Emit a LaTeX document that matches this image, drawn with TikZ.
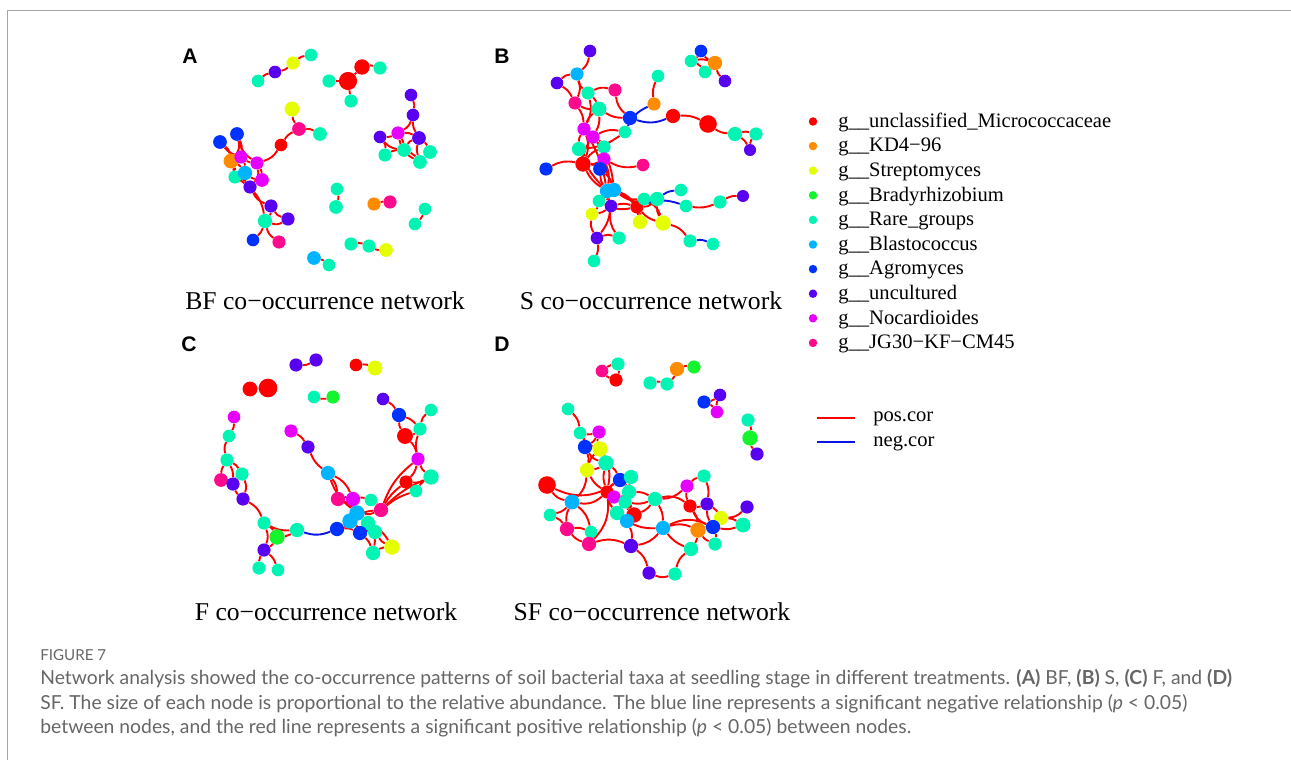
\documentclass[tikz,border=0pt]{standalone}
\usepackage{fontspec}
\setmainfont{Liberation Serif}
\setsansfont{Liberation Sans}
\newfontfamily\capfont{Lato}
\usetikzlibrary{backgrounds}

\definecolor{micro}{HTML}{FF0000}
\definecolor{kdfour}{HTML}{FF8C00}
\definecolor{strepto}{HTML}{E6FF00}
\definecolor{brady}{HTML}{14F52D}
\definecolor{rare}{HTML}{00F5B4}
\definecolor{blasto}{HTML}{00B4FF}
\definecolor{agro}{HTML}{0032FF}
\definecolor{uncult}{HTML}{5A00F0}
\definecolor{nocard}{HTML}{E600FF}
\definecolor{jgthirty}{HTML}{FF0A8C}
\definecolor{negblue}{HTML}{0A14E6}

\begin{document}
\begin{tikzpicture}[x=0.02cm, y=-0.02cm,
  taxon/.style={circle, fill=#1, inner sep=0pt, minimum size=.23cm},
  poscor/.style={draw=red, line width=.038cm},
  negcor/.style={draw=negblue, line width=.038cm},
  title/.style={font=\fontsize{14.6}{17}\selectfont, inner sep=0pt},
  panel/.style={font=\sffamily\bfseries\fontsize{12}{14}\selectfont, inner sep=0pt},
  legtext/.style={font=\fontsize{11.7}{14}\selectfont, anchor=west, inner sep=0pt},
  capt/.style={font=\capfont\fontsize{11}{13}\selectfont, text=black!60, anchor=base west, inner sep=0pt}]
  \useasboundingbox (0,0) rectangle (1291,760);
  \draw[black!35, line width=.03cm] (7.5,760) -- (7.5,10.5) -- (1291,10.5);

  \node[panel] (pA) at (190,56) {A};
  \node[panel] (pB) at (502,56) {B};
  \node[panel] (pC) at (189,344) {C};
  \node[panel] (pD) at (502,344) {D};

  \foreach \nm/\px/\py/\col/\sz in {
    a1/258/81/rare/.23, a2/275/72/uncult/.23, a3/293/63/strepto/.24, a4/311/55/rare/.23,
    a5/348/81/micro/.33, a6/362/67/micro/.28, a7/380/68/rare/.24, a8/329/81/rare/.24,
    a9/351/101/rare/.24, a10/292/109/strepto/.27, a11/299/129/jgthirty/.25, a12/320/134/rare/.25,
    a13/281/145/micro/.23, a14/237/134/agro/.25, a15/220/142/agro/.25, a16/231/161/kdfour/.27,
    a17/241/157/nocard/.24, a18/257/163/nocard/.24, a19/235/177/rare/.24, a20/245/173/blasto/.26,
    a21/262/180/nocard/.25, a22/250/187/uncult/.24, a23/271/206/uncult/.24, a24/265/221/rare/.26,
    a25/288/219/uncult/.24, a26/253/240/agro/.23, a27/279/242/jgthirty/.24,
    a28/411/95/uncult/.23, a29/413/115/uncult/.23, a30/398/133/nocard/.24, a31/380/137/uncult/.23,
    a32/419/138/uncult/.25, a33/385/155/rare/.24, a34/404/150/rare/.25, a35/430/152/rare/.25,
    a36/420/162/rare/.25, a37/337/189/rare/.23, a38/336/207/rare/.25, a39/374/204/kdfour/.24,
    a40/390/202/jgthirty/.24, a41/425/209/rare/.23, a42/415/224/rare/.23, a43/351/244/rare/.24,
    a44/369/246/rare/.24, a45/386/250/strepto/.25, a46/314/258/blasto/.25, a47/329/265/rare/.23,
    b1/590/51/uncult/.23, b2/577/74/blasto/.24, b3/557/83/uncult/.23, b4/588/93/rare/.24,
    b5/615/90/jgthirty/.24, b6/575/103/jgthirty/.24, b7/599/109/rare/.27, b8/630/118/agro/.26,
    b9/654/104/kdfour/.24, b10/658/76/rare/.23, b11/673/116/micro/.26, b12/708/124/micro/.32,
    b13/735/134/rare/.26, b14/756/134/rare/.24, b15/750/150/uncult/.22, b16/625/132/rare/.23,
    b17/584/129/nocard/.24, b18/593/137/nocard/.24, b19/579/149/rare/.26, b20/604/147/rare/.24,
    b21/604/159/nocard/.24, b22/583/164/micro/.28, b23/546/169/agro/.24, b24/600/169/agro/.25,
    b25/643/165/jgthirty/.23, b26/607/191/blasto/.26, b27/614/190/blasto/.26, b28/599/201/rare/.23,
    b29/611/206/uncult/.23, b30/637/207/micro/.24, b31/644/199/rare/.23, b32/657/199/rare/.26,
    b33/681/190/rare/.23, b34/686/206/rare/.23, b35/720/202/rare/.24, b36/743/196/uncult/.22,
    b37/592/214/strepto/.23, b38/640/222/strepto/.26, b39/663/223/strepto/.28, b40/597/238/uncult/.23,
    b41/619/238/rare/.24, b42/594/261/rare/.23, b43/690/241/rare/.24, b44/713/244/rare/.23,
    b45/701/51/agro/.23, b46/691/61/rare/.23, b47/715/63/kdfour/.26, b48/705/72/rare/.23,
    b49/725/81/uncult/.23,
    c1/296/365/uncult/.24, c2/316/360/uncult/.24, c3/356/365/micro/.23, c4/375/368/strepto/.27,
    c5/250/389/micro/.27, c6/268/388/micro/.34, c7/314/397/rare/.23, c8/333/397/brady/.24,
    c9/383/399/uncult/.23, c10/399/415/agro/.26, c11/431/410/rare/.23, c12/420/429/rare/.24,
    c13/405/436/micro/.29, c14/418/459/nocard/.24, c15/431/477/rare/.28, c16/406/482/micro/.24,
    c17/416/491/rare/.23, c18/234/417/nocard/.23, c19/229/436/rare/.23, c20/227/460/rare/.24,
    c21/242/474/rare/.24, c22/221/480/jgthirty/.25, c23/233/484/uncult/.24, c24/243/499/uncult/.24,
    c25/264/523/rare/.24, c26/277/537/brady/.28, c27/264/550/uncult/.24, c28/259/568/rare/.24,
    c29/278/570/rare/.23, c30/297/530/rare/.26, c31/337/529/agro/.26, c32/291/431/nocard/.24,
    c33/308/447/uncult/.24, c34/328/473/blasto/.26, c35/338/499/jgthirty/.26, c36/353/499/nocard/.26,
    c37/371/500/rare/.23, c38/381/510/jgthirty/.26, c39/357/513/blasto/.28, c40/350/521/blasto/.28,
    c41/368/523/rare/.26, c42/360/533/agro/.26, c43/375/532/rare/.26, c44/373/553/rare/.26,
    c45/392/547/strepto/.28,
    d1/602/371/jgthirty/.23, d2/618/364/rare/.24, d3/616/380/micro/.24, d4/650/383/rare/.24,
    d5/667/384/rare/.24, d6/677/369/kdfour/.26, d7/694/367/brady/.24, d8/720/395/uncult/.23,
    d9/704/402/agro/.24, d10/717/412/nocard/.23, d11/748/420/rare/.24, d12/750/438/brady/.28,
    d13/757/454/uncult/.24, d14/568/409/rare/.23, d15/580/433/rare/.23, d16/599/432/nocard/.24,
    d17/585/447/agro/.26, d18/600/449/strepto/.28, d19/606/463/rare/.28, d20/587/470/strepto/.26,
    d21/547/485/micro/.32, d22/572/502/blasto/.27, d23/550/515/rare/.23, d24/567/529/jgthirty/.26,
    d25/591/532/rare/.23, d26/589/544/jgthirty/.26, d27/620/480/agro/.26, d28/631/477/rare/.26,
    d29/607/492/micro/.24, d30/614/497/nocard/.24, d31/629/492/rare/.26, d32/625/502/rare/.24,
    d33/634/515/micro/.28, d34/617/513/rare/.26, d35/627/521/blasto/.26, d36/631/546/uncult/.26,
    d37/655/499/rare/.26, d38/663/528/blasto/.26, d39/649/573/uncult/.24, d40/675/574/rare/.24,
    d41/687/486/nocard/.24, d42/704/476/rare/.24, d43/690/506/micro/.24, d44/707/504/uncult/.24,
    d45/721/518/strepto/.26, d46/698/530/kdfour/.28, d47/713/527/agro/.26, d48/747/507/uncult/.24,
    d49/743/525/rare/.27, d50/715/544/rare/.24, d51/691/549/rare/.26}
    \node[taxon=\col, minimum size=1.1*\sz cm] (\nm) at (\px,\py) {};

  \begin{scope}[on background layer]
    \foreach \u/\v/\k in {
      a1/a2/15, a2/a3/-15, a3/a4/15, a8/a5/0, a5/a6/0, a6/a7/15, a5/a9/0, a10/a11/-15,
      a11/a12/15, a11/a13/-15, a13/a18/20, a14/a17/15, a15/a17/-15, a14/a18/-20, a15/a16/20,
      a16/a17/0, a17/a18/-15, a16/a19/15, a17/a20/15, a18/a21/15, a16/a22/-20, a20/a21/-15,
      a19/a22/20, a21/a22/15, a18/a22/25, a14/a16/25, a16/a20/15, a22/a23/-20, a22/a24/15,
      a23/a24/20, a23/a25/-20, a24/a25/-25, a24/a26/15, a24/a27/-20, a28/a29/15, a29/a30/20,
      a29/a32/-15, a30/a31/15, a30/a32/15, a31/a33/20, a31/a34/-20, a30/a34/15, a32/a34/-20,
      a32/a35/15, a32/a36/-15, a34/a36/15, a30/a36/-25, a33/a34/15, a37/a38/15, a39/a40/10,
      a41/a42/15, a43/a44/15, a44/a45/-15, a46/a47/15,
      b1/b2/20, b2/b3/-20, b2/b4/-20, b2/b6/20, b3/b6/15, b4/b5/20, b4/b7/15, b5/b8/-20,
      b6/b17/15, b6/b7/-15, b4/b17/20, b7/b17/-15, b7/b18/15, b7/b8/-15, b9/b10/15, b11/b12/15,
      b12/b13/-15, b13/b14/15, b13/b15/15, b14/b15/-20, b16/b18/-20, b16/b19/15, b17/b19/-15,
      b17/b22/20, b18/b22/-15, b18/b20/15, b18/b21/15, b19/b22/20, b20/b22/-15, b21/b22/15,
      b21/b25/-20, b22/b23/-20, b22/b24/15, b21/b26/15, b22/b26/-15, b17/b26/10, b18/b27/15,
      b20/b27/-10, b19/b26/-10, b24/b27/15, b24/b26/-15, b26/b28/15, b26/b29/-15, b27/b30/15,
      b27/b31/-20, b27/b32/-25, b29/b30/15, b28/b30/-20, b29/b37/15, b26/b40/25, b29/b41/-20,
      b30/b38/15, b30/b39/-15, b27/b38/25, b28/b37/15, b31/b39/20, b32/b39/-15, b30/b32/-20,
      b34/b35/-15, b35/b36/15, b39/b43/20, b40/b42/15, b40/b41/20, b37/b40/-20, b45/b46/15,
      b45/b47/-15, b46/b47/15, b47/b48/15, b47/b49/-15, b46/b48/15,
      c1/c2/-15, c3/c4/15, c5/c6/0, c7/c8/-15, c9/c10/15, c10/c12/15, c10/c13/-15, c11/c12/-20,
      c12/c13/15, c13/c14/15, c12/c14/-15, c14/c15/-15, c14/c16/15, c15/c16/15, c15/c17/-15,
      c16/c17/15, c14/c38/-15, c16/c38/-10, c17/c38/-10, c15/c38/-10, c18/c19/15, c19/c20/-20,
      c20/c21/15, c20/c22/-15, c20/c23/15, c21/c23/-20, c22/c23/15, c23/c24/-15, c21/c24/20,
      c24/c25/20, c25/c26/15, c25/c30/-15, c26/c30/-15, c25/c27/20, c26/c27/15, c27/c28/-15,
      c27/c29/15, c32/c33/15, c33/c34/-15, c34/c35/15, c34/c39/-15, c35/c36/15, c35/c39/15,
      c36/c37/15, c36/c39/-15, c37/c38/15, c38/c39/15, c38/c40/-15, c39/c40/15, c39/c41/15,
      c40/c42/15, c40/c43/-15, c41/c43/15, c42/c44/15, c43/c45/-15, c44/c45/15, c41/c45/15,
      c31/c40/-15, c31/c42/15, c31/c39/-20, c34/c36/20, c42/c43/15, c41/c44/20,
      d1/d2/15, d1/d3/-15, d2/d3/15, d4/d5/15, d5/d6/-15, d6/d7/15, d8/d9/15, d8/d10/-15,
      d9/d10/15, d11/d12/15, d12/d13/-15, d14/d15/20, d15/d16/-15, d15/d17/15, d15/d18/-20,
      d16/d17/15, d16/d18/-15, d17/d18/15, d17/d19/-20, d17/d20/15, d18/d19/15, d18/d20/-15,
      d19/d20/15, d19/d29/-15, d19/d27/15, d18/d29/20, d20/d29/-15, d20/d22/20, d21/d22/-20,
      d22/d23/15, d22/d24/-15, d22/d25/20, d24/d25/15, d24/d26/-15, d23/d24/15, d25/d26/15,
      d26/d29/-25, d26/d36/20, d27/d28/15, d27/d29/-15, d27/d31/15, d28/d33/-15, d29/d30/15,
      d30/d31/-15, d30/d33/15, d29/d34/-15, d31/d37/15, d32/d33/-15, d33/d35/15, d33/d37/-15,
      d34/d35/15, d34/d38/-20, d35/d36/15, d36/d38/-20, d37/d38/15, d37/d43/25, d37/d41/-20,
      d38/d46/20, d38/d51/-15, d38/d47/25, d36/d39/20, d39/d40/-20, d40/d51/20, d41/d42/15,
      d41/d43/-15, d42/d44/15, d43/d44/-15, d43/d46/15, d43/d47/-20, d44/d45/15, d44/d47/-15,
      d45/d47/15, d45/d48/-20, d45/d49/15, d46/d47/15, d46/d50/-15, d47/d50/15, d46/d51/15,
      d47/d49/-15, d33/d31/15, d32/d37/-15, d21/d27/-30, d22/d29/-25}
      \draw[poscor] (\u) to[bend left=\k] (\v);
    \foreach \u/\v/\k in {b8/b11/-20, b16/b9/20, b33/b32/-15, b34/b30/-20, b43/b44/15, c30/c31/-20}
      \draw[negcor] (\u) to[bend left=\k] (\v);
  \end{scope}

  \node[title] (tA) at (325,301) {BF co−occurrence network};
  \node[title] (tB) at (651,301) {S co−occurrence network};
  \node[title] (tC) at (326,612) {F co−occurrence network};
  \node[title] (tD) at (652,612) {SF co−occurrence network};

  \foreach \i/\col/\txt in {0/micro/unclassified\_Micrococcaceae, 1/kdfour/KD4−96,
    2/strepto/Streptomyces, 3/brady/Bradyrhizobium, 4/rare/Rare\_groups, 5/blasto/Blastococcus,
    6/agro/Agromyces, 7/uncult/uncultured, 8/nocard/Nocardioides, 9/jgthirty/JG30−KF−CM45} {
    \node[taxon=\col, minimum size=.17cm] (key\i) at (813,121.5+24.6*\i) {};
    \node[legtext] (lab\i) at (838,122.5+24.6*\i) {g\_\_\txt};
  }
  \draw[poscor] (817,418) -- (855,418);
  \node[legtext] (lpos) at (873,419) {pos.cor};
  \draw[negcor] (817,442) -- (855,442);
  \node[legtext] (lneg) at (873,443) {neg.cor};

  \node[capt, font=\capfont\fontsize{8.6}{10}\selectfont] (fig) at (40,660) {FIGURE 7};
  \node[capt] (cap1) at (40,684) {Network analysis showed the co-occurrence patterns of soil bacterial taxa at seedling stage in different treatments. \textbf{(A)} BF, \textbf{(B)} S, \textbf{(C)} F, and \textbf{(D)}};
  \node[capt] (cap2) at (40,709) {SF. The size of each node is proportional to the relative abundance. The blue line represents a significant negative relationship (\textit{p} < 0.05)};
  \node[capt] (cap3) at (40,733) {between nodes, and the red line represents a significant positive relationship (\textit{p} < 0.05) between nodes.};
\end{tikzpicture}
\end{document}
